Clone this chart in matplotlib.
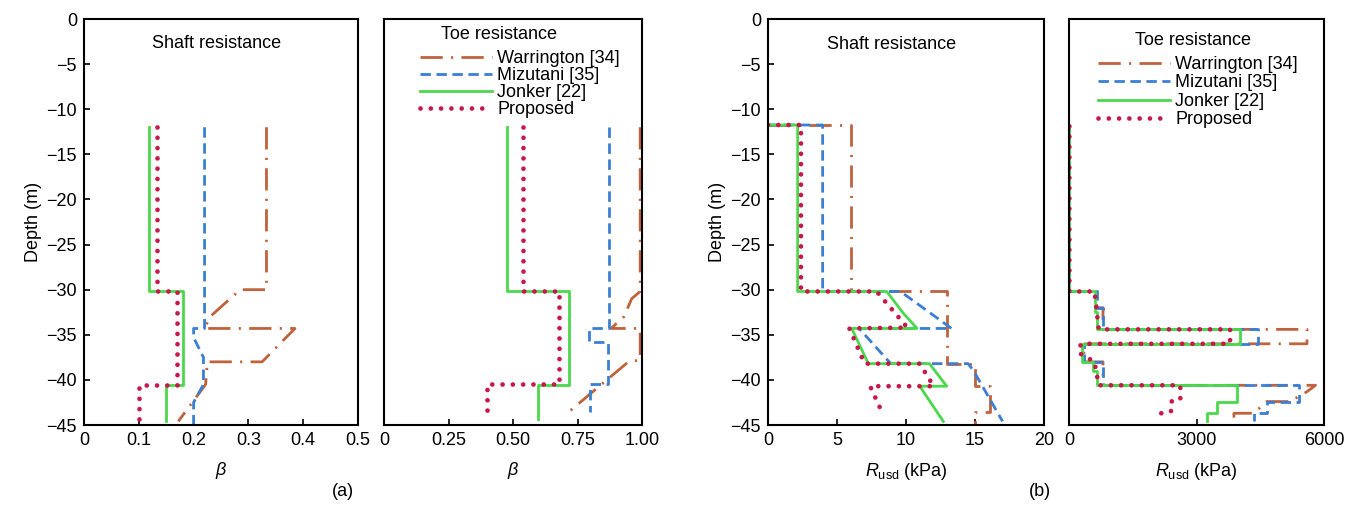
import matplotlib
matplotlib.use("Agg")
import matplotlib.pyplot as plt

plt.rcParams['font.family'] = ['Liberation Sans', 'DejaVu Sans']
plt.rcParams['mathtext.fontset'] = 'custom'
plt.rcParams['mathtext.rm'] = 'Liberation Sans'
plt.rcParams['mathtext.it'] = 'Liberation Sans:italic'
plt.rcParams['lines.scale_dashes'] = False
plt.rcParams['font.size'] = 13

### data (depth in m, beta / R_usd) ###

# (a) shaft beta
shaft_war_d = [-12, -30, -30, -33, -34.3, -34.3, -38, -38, -40.5, -44.6]
shaft_war_b = [0.333, 0.333, 0.285, 0.23, 0.22, 0.385, 0.325, 0.225, 0.222, 0.172]
shaft_miz_d = [-12, -34.3, -34.3, -35.3, -37.5, -40.5, -42.5, -45]
shaft_miz_b = [0.220, 0.220, 0.200, 0.200, 0.218, 0.218, 0.200, 0.200]
shaft_jon_d = [-12, -30.2, -30.2, -40.6, -40.6, -44.6]
shaft_jon_b = [0.119, 0.119, 0.181, 0.181, 0.150, 0.150]
shaft_pro_d = [-12, -30.2, -30.2, -40.6, -40.6, -44.6]
shaft_pro_b = [0.134, 0.134, 0.170, 0.170, 0.100, 0.100]

# (a) toe beta
toe_war_d = [-12, -30.2, -31.0, -33.0, -34.3, -34.3, -37.8, -38.0, -43.7]
toe_war_b = [0.993, 0.993, 0.96, 0.93, 0.88, 0.993, 0.993, 0.947, 0.71]
toe_miz_d = [-12, -34.3, -34.3, -35.8, -35.8, -40.5, -40.5, -43.6]
toe_miz_b = [0.873, 0.873, 0.796, 0.796, 0.870, 0.870, 0.800, 0.800]
toe_jon_d = [-12, -30.2, -30.2, -40.6, -40.6, -44.3]
toe_jon_b = [0.477, 0.477, 0.717, 0.717, 0.598, 0.598]
toe_pro_d = [-12, -30.2, -30.2, -40.5, -40.5, -43.4]
toe_pro_b = [0.537, 0.537, 0.678, 0.678, 0.400, 0.400]

# (b) shaft R_usd (kPa)
rs_war_d = [-11.75, -11.75, -30.2, -30.2, -38.2, -38.2, -40.7, -40.7, -43.6, -43.6, -45]
rs_war_r = [0, 6.0, 6.0, 12.95, 12.95, 15.0, 15.0, 16.1, 16.1, 15.0, 15.0]
rs_miz_d = [-11.75, -11.75, -30.2, -30.2, -34.3, -34.3, -38.2, -38.2, -39.0, -44.6]
rs_miz_r = [0, 3.96, 3.96, 9.6, 13.3, 6.6, 8.9, 14.5, 14.9, 17.0]
rs_jon_d = [-11.75, -11.75, -30.2, -30.2, -32.6, -34.3, -34.3, -38.2, -38.2, -40.7, -40.7, -44.6]
rs_jon_r = [0, 2.15, 2.15, 8.6, 9.8, 10.8, 6.07, 7.27, 11.7, 12.95, 11.0, 12.7]
rs_pro_d = [-11.75, -11.75, -30.2, -30.2, -34.2, -34.3, -38.2, -38.2, -40.7, -40.7, -43.7]
rs_pro_r = [0, 2.39, 2.39, 7.87, 10.1, 5.9, 7.0, 11.0, 12.0, 7.4, 8.3]

# (b) toe R_usd (kPa)
rt_war_d = [-11.9, -30.2, -30.2, -32.0, -32.0, -34.4, -34.4, -36.0, -36.0, -38.0, -38.0,
            -40.6, -40.6, -41.3, -42.4, -42.4, -43.7, -43.7, -44.3]
rt_war_r = [10, 10, 650, 650, 800, 800, 5600, 5600, 350, 350, 800,
            800, 5800, 5600, 5200, 4650, 4350, 3880, 3880]
rt_miz_d = [-11.9, -30.2, -30.2, -32.0, -32.0, -34.4, -34.4, -36.0, -36.0, -38.0, -38.0,
            -40.6, -40.6, -42.4, -42.4, -43.7, -43.7, -44.6]
rt_miz_r = [10, 10, 650, 650, 800, 800, 4450, 4450, 350, 350, 800,
            800, 5400, 5400, 4650, 4650, 4350, 4350]
rt_jon_d = [-11.9, -30.2, -30.2, -32.5, -32.5, -34.4, -34.4, -36.0, -36.0, -38.0, -38.0,
            -39.0, -39.0, -40.6, -40.6, -42.4, -42.4, -43.7, -43.7, -44.6]
rt_jon_r = [10, 10, 600, 600, 650, 650, 4020, 4020, 300, 300, 570,
            570, 650, 650, 3950, 3950, 3480, 3480, 3240, 3240]
rt_pro_d = [-11.9, -30.2, -30.2, -34.4, -34.4, -36.0, -36.0, -37.0, -38.0, -40.6,
            -40.6, -42.2, -42.4, -43.5, -43.7, -44.2]
rt_pro_r = [10, 10, 600, 700, 3790, 3790, 280, 230, 600, 700,
            2620, 2620, 2400, 2400, 2170, 2170]

names = ['Warrington [34]', 'Mizutani [35]', 'Jonker [22]', 'Proposed']
colors = ['#c0623c', '#3b7fd4', '#4cd84c', '#c8174a']
styles = [dict(lw=2.0, ls=(0, (16, 6, 1.5, 6))),
          dict(lw=2.0, ls=(0, (7.5, 4))),
          dict(lw=2.0, ls='-'),
          dict(lw=3.4, ls=(0, (0.01, 7.4)), dash_capstyle='round')]

fig = plt.figure(figsize=(13.54, 5.08), dpi=100)
W, H = 1354, 508
def rect(x0, x1, y0=19, y1=425):
    return [x0 / W, 1 - y1 / H, (x1 - x0) / W, (y1 - y0) / H]

ax1 = fig.add_axes(rect(84, 358))
ax2 = fig.add_axes(rect(384, 642))
ax3 = fig.add_axes(rect(768, 1044))
ax4 = fig.add_axes(rect(1069, 1324))

panels = [
    (ax1, [(shaft_war_b, shaft_war_d), (shaft_miz_b, shaft_miz_d), (shaft_jon_b, shaft_jon_d), (shaft_pro_b, shaft_pro_d)]),
    (ax2, [(toe_war_b, toe_war_d), (toe_miz_b, toe_miz_d), (toe_jon_b, toe_jon_d), (toe_pro_b, toe_pro_d)]),
    (ax3, [(rs_war_r, rs_war_d), (rs_miz_r, rs_miz_d), (rs_jon_r, rs_jon_d), (rs_pro_r, rs_pro_d)]),
    (ax4, [(rt_war_r, rt_war_d), (rt_miz_r, rt_miz_d), (rt_jon_r, rt_jon_d), (rt_pro_r, rt_pro_d)]),
]
for ax, series in panels:
    for (x, y), name, c, st in zip(series, names, colors, styles):
        ax.plot(x, y, color=c, label=name, **st)
    ax.set_ylim(-45, 0)
    ax.tick_params(direction='in', length=4, width=1.2, labelsize=13, pad=5)
    for sp in ax.spines.values():
        sp.set_linewidth(1.5)

for ax in (ax1, ax3):
    ax.set_yticks(range(0, -46, -5))
    ax.set_ylabel('Depth (m)', fontsize=13, labelpad=3)
for ax in (ax2, ax4):
    ax.set_yticks([])

ax1.set_xlim(0, 0.5)
ax1.set_xticks([0, 0.1, 0.2, 0.3, 0.4, 0.5])
ax1.set_xticklabels(['0', '0.1', '0.2', '0.3', '0.4', '0.5'])
ax2.set_xlim(0, 1.0)
ax2.set_xticks([0, 0.25, 0.5, 0.75, 1.0])
ax2.set_xticklabels(['0', '0.25', '0.50', '0.75', '1.00'])
ax3.set_xlim(0, 20)
ax3.set_xticks([0, 5, 10, 15, 20])
ax4.set_xlim(0, 6000)
ax4.set_xticks([0, 3000, 6000])

for ax in (ax1, ax2):
    ax.set_xlabel(r'$\beta$', fontsize=13, labelpad=8)
for ax in (ax3, ax4):
    ax.set_xlabel(r'$R_{\mathrm{usd}}$ (kPa)', fontsize=13, labelpad=9)

ax1.text(0.482, 0.94, 'Shaft resistance', transform=ax1.transAxes, ha='center', va='center')
ax3.text(0.449, 0.936, 'Shaft resistance', transform=ax3.transAxes, ha='center', va='center')

# legends in the toe panels: (axes, handle x, top y, title x, title y, row spacing)
for ax, lx, ly, tx, ty, sp in ((ax2, 0.1395, 0.9236, 0.446, 0.962, 0.0),
                               (ax4, 0.1137, 0.9089, 0.486, 0.948, 0.08)):
    ax.legend(loc='upper left', bbox_to_anchor=(lx, ly), frameon=False, fontsize=13,
              handlelength=4.0, handletextpad=0.28, labelspacing=sp,
              borderpad=0, borderaxespad=0)
    ax.text(tx, ty, 'Toe resistance', transform=ax.transAxes, ha='center', va='center')

fig.text(343 / W, 1 - 492 / H, '(a)', ha='center', va='center')
fig.text(1040 / W, 1 - 492 / H, '(b)', ha='center', va='center')

fig.savefig('out.png', dpi=100)
